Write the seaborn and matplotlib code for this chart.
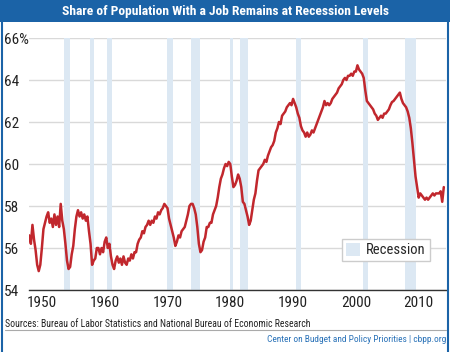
import numpy as np
import pandas as pd
import matplotlib
matplotlib.use('Agg')
import matplotlib.pyplot as plt
import seaborn as sns
from matplotlib.patches import Patch, Rectangle
from matplotlib.lines import Line2D

sns.set_style('white')
plt.rcParams['font.family'] = ['Roboto Condensed', 'Liberation Sans Narrow', 'Liberation Sans', 'DejaVu Sans']

# quarterly share of population with a job (%), 1948Q1 .. 2014Q1
emp_ratio = [
    56.6, 56.2, 57.1, 56.4,  55.9, 55.2, 54.9, 55.2,  56.0, 56.9, 57.2, 57.5,
    57.7, 57.2, 57.4, 57.0,  57.6, 57.1, 57.5, 57.0,  58.1, 57.3, 56.9, 56.2,
    55.4, 55.0, 55.1, 55.7,  56.1, 56.9, 57.5, 57.8,  57.5, 57.7, 57.4, 57.6,
    57.3, 57.5, 56.8, 56.2,  55.2, 55.4, 55.5, 56.0,  56.0, 55.7, 56.0, 55.8,
    56.3, 56.5, 56.0, 56.2,  55.6, 55.2, 55.0, 55.4,  55.6, 55.3, 55.5, 55.2,
    55.6, 55.3, 55.2, 55.5,  55.4, 55.7, 55.5, 55.8,  55.8, 56.2, 56.4, 56.5,
    56.8, 56.7, 57.0, 57.1,  57.3, 57.1, 57.3, 57.2,  57.5, 57.4, 57.7, 57.6,
    57.8, 57.9, 58.1, 58.0,  57.9, 57.4, 57.1, 56.8,  56.5, 56.1, 56.3, 56.6,
    56.5, 56.8, 56.9, 57.0,  57.3, 57.6, 58.0, 58.1,  58.1, 57.9, 57.6, 57.0,
    56.2, 55.8, 55.9, 56.3,  56.5, 57.0, 57.0, 57.2,  57.2, 57.6, 57.8, 58.0,
    58.4, 58.9, 59.3, 59.5,  59.8, 60.0, 59.9, 60.1,  60.0, 59.4, 58.9, 59.0,
    59.2, 59.5, 59.3, 58.9,  58.2, 58.1, 57.8, 57.5,  57.1, 57.3, 57.8, 58.3,
    58.6, 59.2, 59.7, 59.8,  59.9, 60.0, 60.2, 60.1,  60.4, 60.6, 60.8, 60.9,
    61.1, 61.5, 61.7, 62.0,  61.9, 62.3, 62.4, 62.5,  62.7, 62.8, 62.9, 62.8,
    63.1, 62.9, 62.7, 62.4,  62.2, 61.8, 61.6, 61.5,  61.3, 61.5, 61.3, 61.4,
    61.6, 61.5, 61.7, 61.9,  62.1, 62.3, 62.5, 62.7,  63.0, 62.8, 62.9, 62.8,
    62.9, 63.1, 63.2, 63.3,  63.4, 63.6, 63.7, 63.8,  64.0, 64.1, 64.0, 64.2,
    64.2, 64.3, 64.2, 64.4,  64.4, 64.7, 64.5, 64.4,  64.3, 64.1, 63.5, 63.0,
    62.9, 62.8, 62.7, 62.6,  62.4, 62.3, 62.1, 62.2,  62.3, 62.2, 62.4, 62.4,
    62.5, 62.6, 62.8, 62.95, 63.0, 63.1, 63.2, 63.3,  63.4, 63.1, 62.9, 62.8,
    62.7, 62.5, 62.2, 61.7,  61.0, 60.2, 59.4, 58.9,  58.4, 58.6, 58.5, 58.4,
    58.3, 58.4, 58.3, 58.4,  58.5, 58.6, 58.5, 58.6,  58.6, 58.6, 58.7, 58.2,
    58.9,
]
years = 1948 + np.arange(len(emp_ratio)) * 0.25

rec_start = [1953.5, 1957.6, 1960.3, 1969.9, 1973.8, 1980.0, 1981.5, 1990.5, 2001.2, 2007.9]
rec_end = [1954.4, 1958.3, 1961.1, 1970.9, 1975.2, 1980.5, 1982.9, 1991.2, 2001.9, 2009.5]

yticks = [54, 56, 58, 60, 62, 64, 66]
ytick_labels = ['54', '56', '58', '60', '62', '64', '66%']
xticks = [1950, 1960, 1970, 1980, 1990, 2000, 2010]

df = pd.DataFrame({'year': years, 'ratio': emp_ratio})

blue = '#1b63a7'
red = '#c1272d'
band = '#dce8f3'

fig = plt.figure(figsize=(4.5, 3.52), dpi=100)
fig.patches.append(Rectangle((0, 1 - 22 / 352), 1, 22 / 352, transform=fig.transFigure,
                             facecolor=blue, edgecolor='none', zorder=0))
fig.add_artist(Line2D([1.5 / 450, 1.5 / 450], [0, 1], color=blue, lw=1.5))
fig.add_artist(Line2D([448 / 450, 448 / 450], [0, 1], color=blue, lw=1.5))
title = fig.text(0.5, 1 - 11 / 352, 'Share of Population With a Job Remains at Recession Levels',
                 color='white', fontsize=10, fontweight='bold', ha='center', va='center')

ax = fig.add_axes([29 / 450, 62 / 352, 417 / 450, 252 / 352])
for s, e in zip(rec_start, rec_end):
    ax.axvspan(s, e, color=band, lw=0, zorder=1)
ax.set_yticks(yticks)
ax.grid(axis='y', color='#d9d9d9', lw=1, zorder=0)
sns.lineplot(data=df, x='year', y='ratio', color=red, lw=1.8, ax=ax, zorder=3)

ax.set_xlim(1947.95, 2014.35)
ax.set_ylim(54, 66)
ax.set_xticks(xticks)
ax.set_xticks(np.arange(1948, 2015), minor=True)
ax.set_yticklabels(ytick_labels, ha='left')
ax.set_xlabel('')
ax.set_ylabel('')
for side in ['top', 'right', 'left']:
    ax.spines[side].set_visible(False)
ax.spines['bottom'].set_color('#333333')
ax.spines['bottom'].set_linewidth(1)
ax.tick_params(axis='y', length=0, pad=18, labelsize=11, labelcolor='#222222')
ax.tick_params(axis='x', which='major', direction='in', length=5, width=1, color='#333333',
               labelsize=11, labelcolor='#222222', pad=4)
ax.tick_params(axis='x', which='minor', direction='in', length=2.5, width=0.8, color='#333333')

ax.legend(handles=[Patch(facecolor=band, edgecolor='none', label='Recession')],
          loc='lower right', bbox_to_anchor=(0.978, 0.087), fontsize=10.5,
          frameon=True, fancybox=False, edgecolor='#cccccc', framealpha=1,
          handlelength=1.0, handleheight=1.0, handletextpad=0.4, borderpad=0.25)

src = fig.text(5 / 450, 1 - 324 / 352, 'Sources: Bureau of Labor Statistics and National Bureau of Economic Research',
               fontsize=7.5, color='#222222', ha='left', va='center')
fig.add_artist(Line2D([5 / 450, 446 / 450], [1 - 330 / 352, 1 - 330 / 352], color='#aaaaaa', lw=0.8))
foot = fig.text(446 / 450, 1 - 339 / 352, 'Center on Budget and Policy Priorities | cbpp.org',
                fontsize=7.5, color='#2a72b8', ha='right', va='center')

# shrink texts so they span the same width as in the reference
renderer = fig.canvas.get_renderer()
for t, target in [(title, 326), (src, 303), (foot, 180)]:
    w = t.get_window_extent(renderer).width
    t.set_fontsize(t.get_fontsize() * target / w)

plt.savefig('out.png', dpi=100)
plt.close()
